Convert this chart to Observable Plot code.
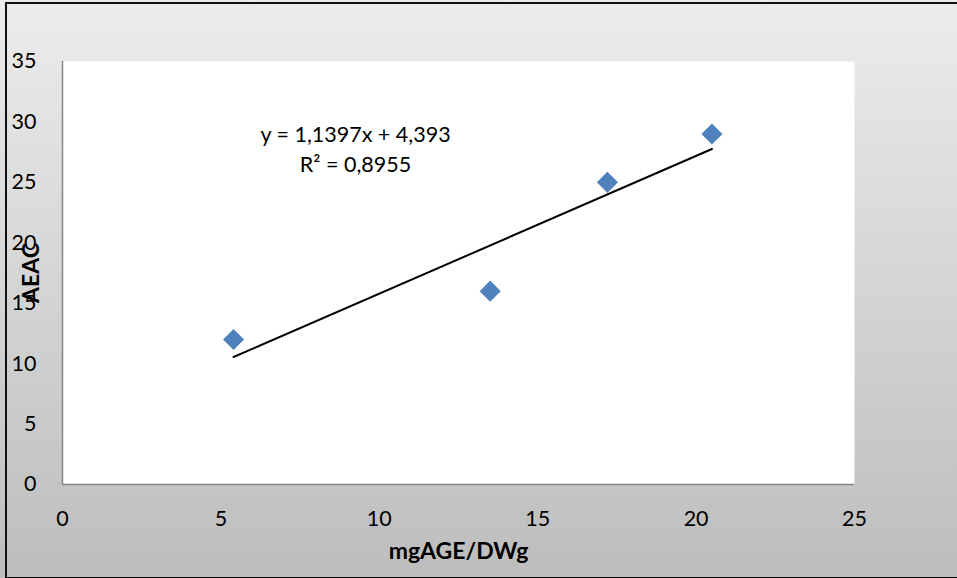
<!DOCTYPE html>
<html>
<head>
<meta charset="utf-8">
<script src="https://cdn.jsdelivr.net/npm/d3@7"></script>
<script src="https://cdn.jsdelivr.net/npm/@observablehq/plot@0.6"></script>
<style>
  html, body { margin: 0; padding: 0; background: #fff; }
  #wrap { position: relative; width: 957px; height: 578px; overflow: hidden; }
  #chart svg { display: block; }
  #border { position: absolute; left: 5px; top: 2px; width: 960px; height: 573px; border: 2px solid #111; pointer-events: none; }
</style>
</head>
<body>
<div id="wrap"><div id="chart"></div><div id="border"></div></div>
<script>
// Data
const xValues = [5.4, 13.5, 17.2, 20.5];
const yValues = [12.0, 16.0, 25.0, 29.0];
const slope = 1.1397;
const intercept = 4.393;
const equationLines = ["y = 1,1397x + 4,393", "R² = 0,8955"];
const xTicks = [0, 5, 10, 15, 20, 25];
const yTicks = [0, 5, 10, 15, 20, 25, 30, 35];
const xLabel = "mgAGE/DWg";
const yLabel = "AEAC";

const points = xValues.map((x, i) => ({x, y: yValues[i]}));
const xMin = d3.min(xValues), xMax = d3.max(xValues);
const trend = [xMin, xMax].map(x => ({x, y: slope * x + intercept}));

const font = "Lato, 'Open Sans', sans-serif";

const chart = Plot.plot({
  width: 957,
  height: 578,
  marginLeft: 62,
  marginRight: 103,
  marginTop: 61,
  marginBottom: 94,
  style: {fontFamily: font, fontSize: "21.5px", color: "#000", background: "linear-gradient(#ececec, #bdbdbd)"},
  x: {domain: [0, 25], ticks: xTicks, tickSize: 0, tickPadding: 26, label: null},
  y: {domain: [0, 35], ticks: yTicks, tickSize: 0, tickPadding: 26, label: null},
  marks: [
    Plot.frame({fill: "white", stroke: null}),
    Plot.ruleX([0], {stroke: "#868686", strokeWidth: 1.5}),
    Plot.ruleY([0], {stroke: "#868686", strokeWidth: 1.5}),
    Plot.line(trend, {x: "x", y: "y", stroke: "#000", strokeWidth: 2}),
    Plot.dot(points, {x: "x", y: "y", symbol: "diamond2", r: 9.5, fill: "#4f81bd", stroke: null}),
    Plot.text([equationLines.join("\n")], {frameAnchor: "top-left", dx: 293, dy: 59, text: d => d, lineHeight: 1.4,
      fontSize: 21.5, fill: "#000", textAnchor: "middle"}),
    Plot.text([yLabel], {frameAnchor: "left", dx: -31, rotate: -90, textAnchor: "middle", text: d => d, fontWeight: "bold", fontSize: 23, fill: "#000"}),
    Plot.text([xLabel], {frameAnchor: "bottom", dy: 74, text: d => d, fontWeight: "bold", fontSize: 23, fill: "#000"}),
    Plot.axisX({ticks: xTicks, tickSize: 0, tickPadding: 26, label: null, fontSize: 21.5}),
    Plot.axisY({ticks: yTicks, tickSize: 0, tickPadding: 26, label: null, fontSize: 21.5})
  ]
});
document.getElementById("chart").appendChild(chart);
</script>
</body>
</html>
